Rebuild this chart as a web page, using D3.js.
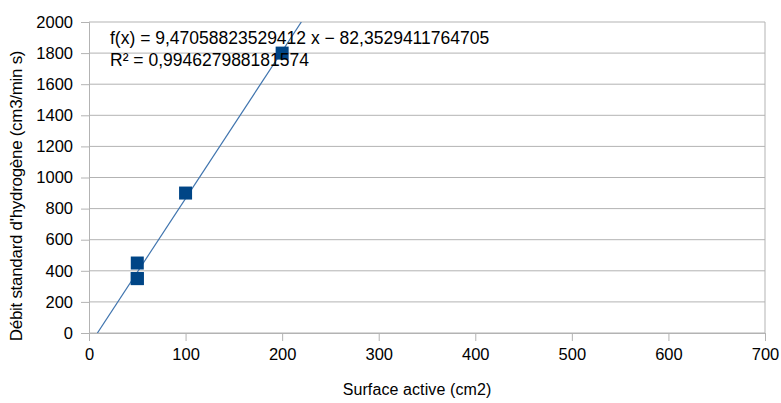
<!DOCTYPE html>
<html>
<head>
<meta charset="utf-8">
<script src="https://cdn.jsdelivr.net/npm/d3@7"></script>
<style>
  body { margin: 0; background: #fff; }
  text { font-family: "Liberation Sans", Arial, sans-serif; fill: #000; }
</style>
</head>
<body>
<div id="chart"></div>
<script>
// Measured points (surface active cm2, debit cm3/min s)
const surfaces = [50, 50, 50, 100, 200];
const debits = [350, 350, 450, 900, 1800];
const xTicks = [0, 100, 200, 300, 400, 500, 600, 700];
const yTicks = [0, 200, 400, 600, 800, 1000, 1200, 1400, 1600, 1800, 2000];
const slope = 9.47058823529412;
const intercept = -82.3529411764705;
const equationLines = ["f(x) = 9,47058823529412 x \u2212 82,3529411764705", "R\u00b2 = 0,994627988181574"];

const width = 781, height = 403;
const margin = { top: 22, right: 16, bottom: 70, left: 89 };
const innerW = width - margin.left - margin.right;
const innerH = height - margin.top - margin.bottom;

const svg = d3.select("#chart").append("svg")
    .attr("width", width)
    .attr("height", height);

const g = svg.append("g")
    .attr("transform", `translate(${margin.left},${margin.top})`);

const x = d3.scaleLinear().domain([0, 700]).range([0, innerW]);
const y = d3.scaleLinear().domain([0, 2000]).range([innerH, 0]);

// Gridlines
g.selectAll("line.grid")
    .data(yTicks)
    .enter()
    .append("line")
    .attr("class", "grid")
    .attr("x1", 0)
    .attr("x2", innerW)
    .attr("y1", d => y(d))
    .attr("y2", d => y(d))
    .attr("stroke", "#b3b3b3")
    .attr("stroke-width", 1);

// right border
g.append("line")
    .attr("x1", innerW).attr("x2", innerW)
    .attr("y1", 0).attr("y2", innerH)
    .attr("stroke", "#b3b3b3");

// Axes
const xAxis = g.append("g")
    .attr("transform", `translate(0,${innerH})`)
    .call(d3.axisBottom(x).tickValues(xTicks).tickFormat(d3.format("d")).tickSize(8).tickPadding(7));
const yAxis = g.append("g")
    .call(d3.axisLeft(y).tickValues(yTicks).tickFormat(d3.format("d")).tickSize(8).tickPadding(8));

[xAxis, yAxis].forEach(a => {
    a.selectAll("path").attr("stroke", "#b3b3b3");
    a.selectAll("line").attr("stroke", "#b3b3b3");
    a.selectAll("text").style("font-size", "16.5px").attr("fill", "#000");
});
xAxis.selectAll("text").attr("dy", "0.75em");

// Clip for trend line
g.append("clipPath").attr("id", "clip")
    .append("rect").attr("width", innerW).attr("height", innerH);

const x0 = -intercept / slope;
const x1 = (2000 - intercept) / slope;
g.append("line")
    .attr("clip-path", "url(#clip)")
    .attr("x1", x(x0)).attr("y1", y(0))
    .attr("x2", x(x1)).attr("y2", y(2000))
    .attr("stroke", "#3f74ae")
    .attr("stroke-width", 1.2);

// Points
const sz = 13;
g.selectAll("rect.pt")
    .data(surfaces.map((s, i) => ({ s, d: debits[i] })))
    .enter()
    .append("rect")
    .attr("class", "pt")
    .attr("x", d => x(d.s) - sz / 2)
    .attr("y", d => y(d.d) - sz / 2)
    .attr("width", sz)
    .attr("height", sz)
    .attr("fill", "#004586");

// Equation
g.selectAll("text.eq")
    .data(equationLines)
    .enter()
    .append("text")
    .attr("class", "eq")
    .attr("x", 21)
    .attr("y", (d, i) => 22 + i * 22)
    .style("font-size", "17.5px")
    .text(d => d);

// Axis titles
svg.append("text")
    .attr("x", 417)
    .attr("y", 395)
    .attr("text-anchor", "middle")
    .style("font-size", "16px")
    .style("letter-spacing", "0.1px")
    .text("Surface active (cm2)");

svg.append("text")
    .attr("transform", `translate(22,196) rotate(-90)`)
    .attr("text-anchor", "middle")
    .style("font-size", "17px")
    .style("letter-spacing", "-0.3px")
    .text("Débit standard d'hydrogène (cm3/min s)");
</script>
</body>
</html>
